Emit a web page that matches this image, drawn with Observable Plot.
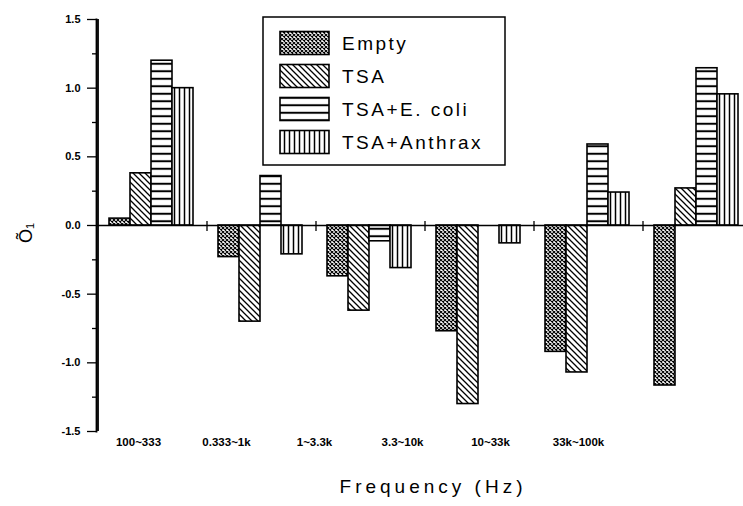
<!DOCTYPE html>
<html>
<head>
<meta charset="utf-8">
<script src="https://cdn.jsdelivr.net/npm/d3@7"></script>
<script src="https://cdn.jsdelivr.net/npm/@observablehq/plot@0.6"></script>
<style>
  html, body { margin: 0; padding: 0; background: #fff; }
  #wrap { position: relative; width: 743px; height: 506px; overflow: hidden; background: #fff;
          font-family: "Liberation Sans", Arial, sans-serif; color: #000; }
  #wrap > div, #wrap > svg { position: absolute; }
  #main { left: 0; top: 0; z-index: 1; }
  #xlabels { left: 0; top: 432px; z-index: 2; }
  #legend { left: 262px; top: 16px; z-index: 3; }
  #ytitle { left: 14px; top: 222px; width: 24px; height: 22px; line-height: 22px; text-align: center;
            transform: rotate(-90deg); font-size: 18px; white-space: nowrap; z-index: 4; }
  #xtitle { left: 433px; top: 476px; width: 0; font-size: 19px; letter-spacing: 4px; white-space: nowrap; z-index: 4; }
  #xtitle span { display: inline-block; transform: translateX(-50%); }
  #axisline { left: 0; top: 0; width: 743px; height: 506px; pointer-events: none; z-index: 10; }
</style>
</head>
<body>
<div id="wrap">
  <svg id="patterns" width="1" height="1" style="left:0;top:0">
    <defs>
      <pattern id="pEmpty" patternUnits="userSpaceOnUse" width="4" height="4">
        <rect width="4" height="4" fill="#fff"/>
        <path d="M0,0L4,4M4,0L0,4" stroke="#000" stroke-width="1.1"/>
      </pattern>
      <pattern id="pTSA" patternUnits="userSpaceOnUse" width="6" height="6">
        <rect width="6" height="6" fill="#fff"/>
        <path d="M-1,-1L7,7M-1,5L1,7M5,-1L7,1" stroke="#000" stroke-width="1.3"/>
      </pattern>
      <pattern id="pEcoli" patternUnits="userSpaceOnUse" width="7.5" height="7.5">
        <rect width="7.5" height="7.5" fill="#fff"/>
        <path d="M0,3.75H7.5" stroke="#000" stroke-width="2"/>
      </pattern>
      <pattern id="pAnthrax" patternUnits="userSpaceOnUse" width="5" height="5">
        <rect width="5" height="5" fill="#fff"/>
        <path d="M2.5,0V5" stroke="#000" stroke-width="1.5"/>
      </pattern>
    </defs>
  </svg>
  <div id="main"></div>
  <div id="xlabels"></div>
  <svg id="legend" width="246" height="152"></svg>
  <div id="ytitle">Õ₁</div>
  <div id="xtitle"><span>Frequency (Hz)</span></div>
  <div id="axisline"></div>
</div>
<script>
// ---- data ----
const groups = ["100~333", "0.333~1k", "1~3.3k", "3.3~10k", "10~33k", "33k~100k"];
const series = ["Empty", "TSA", "TSA+E. coli", "TSA+Anthrax"];
const patternIds = ["pEmpty", "pTSA", "pEcoli", "pAnthrax"];
const emptyVals   = [0.05, -0.23, -0.37, -0.77, -0.92, -1.165];
const tsaVals     = [0.38, -0.70, -0.62, -1.30, -1.07, 0.27];
const ecoliVals   = [1.20, 0.36, -0.115, 0.0, 0.59, 1.145];
const anthraxVals = [1.00, -0.21, -0.31, -0.13, 0.24, 0.955];
const yTicks = [-1.5, -1.0, -0.5, 0.0, 0.5, 1.0, 1.5];
const yMinor = [-1.25, -0.75, -0.25, 0.25, 0.75, 1.25];
const yDomain = [-1.5, 1.5];

const valueSets = [emptyVals, tsaVals, ecoliVals, anthraxVals];
const data = groups.flatMap((g, i) => series.map((s, j) => ({group: g, series: s, value: valueSets[j][i]})));

const baseStyle = {fontFamily: "Liberation Sans, Arial, sans-serif", background: "transparent", color: "#000"};

// ---- main chart ----
const chart = Plot.plot({
  width: 743,
  height: 506,
  marginLeft: 94,
  marginRight: -9,
  marginTop: 19,
  marginBottom: 75,
  style: baseStyle,
  fx: {domain: groups, padding: 0, axis: null, label: null},
  x: {domain: series, paddingInner: 0, paddingOuter: 0.5, axis: null},
  y: {domain: yDomain},
  color: {domain: series, range: patternIds.map(id => `url(#${id})`)},
  marks: [
    Plot.barY(data, {fx: "group", x: "series", y: "value", fill: "series", stroke: "#000", strokeWidth: 1.6}),
    Plot.ruleY([0], {stroke: "#000", strokeWidth: 1.5}),
    Plot.ruleX(groups.slice(1), {fx: d => d, x: () => series[0], dx: -22, y1: 0, y2: 0, insetTop: -4, insetBottom: -6, stroke: "#000", strokeWidth: 1.3}),
    Plot.ruleX(groups.slice(0, 1), {fx: d => d, x: () => series[0], dx: -22, stroke: "#000", strokeWidth: 1.8}),
    Plot.axisY(yTicks, {tickSize: 9, tickPadding: 7, tickFormat: d => d.toFixed(1), fontSize: 11, fontWeight: "bold", label: null, strokeWidth: 1.3}),
    Plot.axisY(yMinor, {tickSize: 4, tickFormat: () => "", label: null, strokeWidth: 1.3})
  ]
});
document.getElementById("main").appendChild(chart);

// ---- left axis line (non-faceted overlay sharing the y layout, on top) ----
const axisLine = Plot.plot({
  width: 743, height: 506,
  marginLeft: 96, marginRight: 0, marginTop: 19, marginBottom: 75,
  style: baseStyle,
  y: {domain: yDomain, axis: null},
  marks: [Plot.frame({anchor: "left", stroke: "#000", strokeWidth: 1.8})]
});
document.getElementById("axisline").appendChild(axisLine);

// ---- category labels ----
const xl = Plot.plot({
  width: 743, height: 20,
  marginLeft: 136, marginRight: 163, marginTop: 0, marginBottom: 0,
  style: baseStyle,
  x: {type: "point", domain: groups, padding: 0, axis: null},
  marks: [Plot.text(groups, {x: d => d, text: d => d, fontSize: 11.5, fontWeight: "bold"})]
});
document.getElementById("xlabels").appendChild(xl);

// ---- legend ----
const leg = d3.select("#legend");
leg.append("rect").attr("x", 1).attr("y", 1).attr("width", 242).attr("height", 148)
  .attr("fill", "#fff").attr("stroke", "#000").attr("stroke-width", 1.5);
const rows = leg.selectAll("g.row").data(series).join("g").attr("class", "row")
  .attr("transform", (d, i) => `translate(0, ${27 + i * 33})`);
rows.append("rect").attr("x", 18).attr("y", -11.5).attr("width", 49).attr("height", 23)
  .attr("fill", (d, i) => `url(#${patternIds[i]})`).attr("stroke", "#000").attr("stroke-width", 1.6);
rows.append("text").attr("x", 80).attr("y", 0).attr("dy", "0.35em")
  .attr("font-size", 19).attr("letter-spacing", 2.5)
  .attr("font-family", "Liberation Sans, Arial, sans-serif").text(d => d);
</script>
</body>
</html>
